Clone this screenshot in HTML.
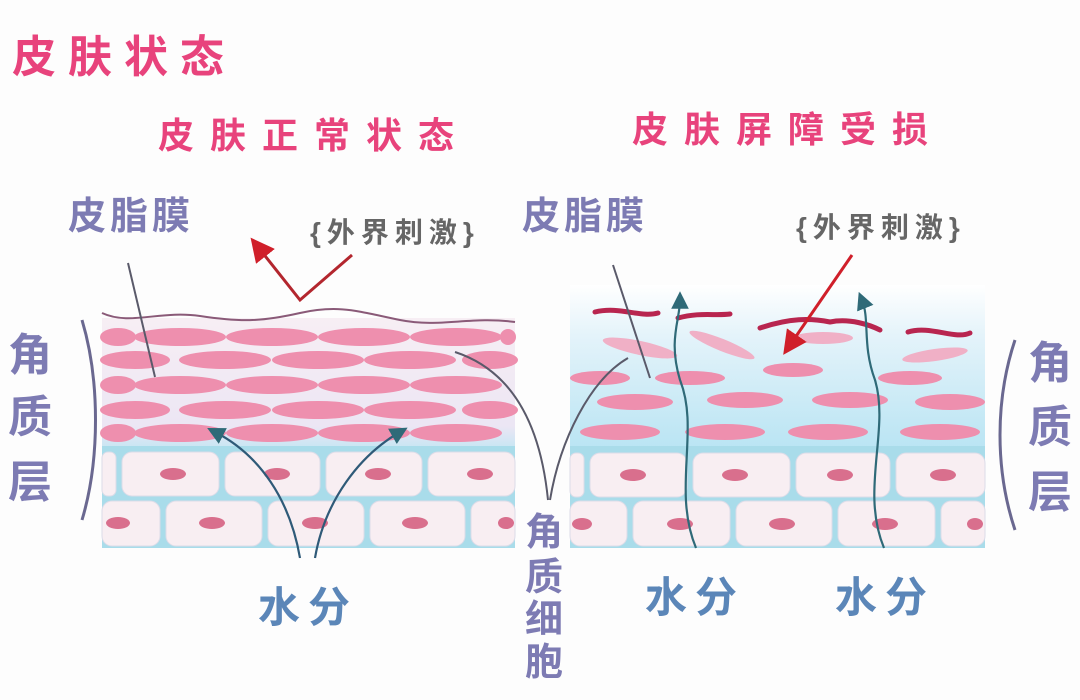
<!DOCTYPE html>
<html><head><meta charset="utf-8"><style>
html,body{margin:0;padding:0;background:#fff;width:1080px;height:700px;overflow:hidden}
svg{display:block}
text{font-family:"Liberation Sans","Noto Sans CJK SC","WenQuanYi Zen Hei",sans-serif;font-weight:bold}
</style></head><body>
<svg width="1080" height="700" viewBox="0 0 1080 700" xmlns="http://www.w3.org/2000/svg">
<defs>
<linearGradient id="rb" x1="0" y1="0" x2="0" y2="1">
<stop offset="0" stop-color="#ffffff"/><stop offset="0.3" stop-color="#e4f3fa"/><stop offset="1" stop-color="#b8e4f3"/></linearGradient>
<linearGradient id="lb" x1="0" y1="0" x2="0" y2="1">
<stop offset="0" stop-color="#f7eef4"/><stop offset="0.8" stop-color="#ece6f4"/><stop offset="1" stop-color="#bfe6f3"/></linearGradient>
<marker id="ah" markerWidth="8" markerHeight="8" refX="4" refY="4" orient="auto"><path d="M0,0 L8,4 L0,8 Z" fill="#2f6a78"/></marker>
<marker id="ar" markerWidth="8" markerHeight="8" refX="4" refY="4" orient="auto"><path d="M0,0 L8,4 L0,8 Z" fill="#d01f2a"/></marker>
</defs>
<rect width="1080" height="700" fill="#fdfdfd"/>
<text x="12" y="72" font-size="44" fill="#e8437c" letter-spacing="12">皮肤状态</text>
<text x="158" y="148" font-size="36" fill="#e8437c" letter-spacing="16">皮肤正常状态</text>
<text x="632" y="142" font-size="36" fill="#e8437c" letter-spacing="16">皮肤屏障受损</text>
<text x="68" y="229" font-size="38" fill="#7d7bb3" letter-spacing="4">皮脂膜</text>
<text x="522" y="229" font-size="38" fill="#7d7bb3" letter-spacing="4">皮脂膜</text>
<text x="310" y="242" font-size="28" fill="#666" letter-spacing="6">{外界刺激}</text>
<text x="796" y="237" font-size="28" fill="#666" letter-spacing="6">{外界刺激}</text>
<!-- left panel -->
<rect x="102" y="318" width="413" height="135" fill="url(#lb)"/>
<g fill="#ee8fae">
<ellipse cx="118" cy="337" rx="18" ry="9"/><ellipse cx="180" cy="337" rx="46" ry="9"/><ellipse cx="272" cy="337" rx="46" ry="9"/><ellipse cx="364" cy="337" rx="46" ry="9"/><ellipse cx="456" cy="337" rx="46" ry="9"/><ellipse cx="508" cy="337" rx="8" ry="8"/>
<ellipse cx="135" cy="360" rx="35" ry="9"/><ellipse cx="225" cy="360" rx="46" ry="9"/><ellipse cx="318" cy="360" rx="46" ry="9"/><ellipse cx="410" cy="360" rx="46" ry="9"/><ellipse cx="490" cy="360" rx="28" ry="9"/>
<ellipse cx="118" cy="385" rx="18" ry="9"/><ellipse cx="180" cy="385" rx="46" ry="9"/><ellipse cx="272" cy="385" rx="46" ry="9"/><ellipse cx="364" cy="385" rx="46" ry="9"/><ellipse cx="456" cy="385" rx="46" ry="9"/>
<ellipse cx="135" cy="410" rx="35" ry="9"/><ellipse cx="225" cy="410" rx="46" ry="9"/><ellipse cx="318" cy="410" rx="46" ry="9"/><ellipse cx="410" cy="410" rx="46" ry="9"/><ellipse cx="490" cy="410" rx="28" ry="9"/>
<ellipse cx="118" cy="433" rx="18" ry="9"/><ellipse cx="180" cy="433" rx="46" ry="9"/><ellipse cx="272" cy="433" rx="46" ry="9"/><ellipse cx="364" cy="433" rx="46" ry="9"/><ellipse cx="456" cy="433" rx="46" ry="9"/>
</g>
<path d="M102,313 C130,326 160,310 200,316 S260,322 300,313 S360,312 400,320 S470,316 515,322" fill="none" stroke="#8a5a78" stroke-width="2"/>
<!-- left cells -->
<rect x="102" y="446" width="413" height="102" fill="#a9dcea"/>
<g fill="#f8eef2" stroke="#dcdce8">
<rect x="102" y="452" width="14" height="44" rx="6"/><rect x="122" y="452" width="97" height="44" rx="10"/><rect x="225" y="452" width="95" height="44" rx="10"/><rect x="326" y="452" width="96" height="44" rx="10"/><rect x="428" y="452" width="87" height="44" rx="10"/>
<rect x="102" y="501" width="58" height="45" rx="10"/><rect x="166" y="501" width="96" height="45" rx="10"/><rect x="268" y="501" width="96" height="45" rx="10"/><rect x="370" y="501" width="95" height="45" rx="10"/><rect x="471" y="501" width="44" height="45" rx="10"/>
</g>
<g fill="#d96f8d">
<ellipse cx="173" cy="474" rx="13" ry="6"/><ellipse cx="277" cy="474" rx="13" ry="6"/><ellipse cx="378" cy="474" rx="13" ry="6"/><ellipse cx="480" cy="474" rx="13" ry="6"/>
<ellipse cx="118" cy="523" rx="12" ry="6"/><ellipse cx="212" cy="523" rx="13" ry="6"/><ellipse cx="315" cy="523" rx="13" ry="6"/><ellipse cx="415" cy="523" rx="13" ry="6"/><ellipse cx="506" cy="523" rx="8" ry="6"/>
</g>
<!-- right panel -->
<rect x="570" y="285" width="415" height="168" fill="url(#rb)"/>
<rect x="570" y="446" width="415" height="102" fill="#a9dcea"/>
<g fill="#f8eef2" stroke="#dcdce8">
<rect x="570" y="453" width="14" height="44" rx="6"/><rect x="590" y="453" width="97" height="44" rx="10"/><rect x="693" y="453" width="97" height="44" rx="10"/><rect x="796" y="453" width="94" height="44" rx="10"/><rect x="896" y="453" width="89" height="44" rx="10"/>
<rect x="570" y="501" width="57" height="45" rx="10"/><rect x="633" y="501" width="97" height="45" rx="10"/><rect x="736" y="501" width="96" height="45" rx="10"/><rect x="838" y="501" width="97" height="45" rx="10"/><rect x="941" y="501" width="44" height="45" rx="10"/>
</g>
<g fill="#d96f8d">
<ellipse cx="633" cy="475" rx="13" ry="6"/><ellipse cx="735" cy="475" rx="13" ry="6"/><ellipse cx="840" cy="475" rx="13" ry="6"/><ellipse cx="943" cy="475" rx="13" ry="6"/>
<ellipse cx="582" cy="524" rx="10" ry="6"/><ellipse cx="680" cy="524" rx="13" ry="6"/><ellipse cx="782" cy="524" rx="13" ry="6"/><ellipse cx="885" cy="524" rx="13" ry="6"/><ellipse cx="975" cy="524" rx="8" ry="6"/>
</g>
<g fill="#ee8fae">
<ellipse cx="620" cy="432" rx="40" ry="8"/><ellipse cx="725" cy="432" rx="40" ry="8"/><ellipse cx="828" cy="432" rx="40" ry="8"/><ellipse cx="940" cy="432" rx="40" ry="8"/>
<ellipse cx="635" cy="402" rx="38" ry="8"/><ellipse cx="745" cy="400" rx="38" ry="8"/><ellipse cx="850" cy="400" rx="38" ry="8"/><ellipse cx="950" cy="402" rx="35" ry="8"/>
<ellipse cx="600" cy="378" rx="30" ry="7"/><ellipse cx="690" cy="378" rx="35" ry="7"/><ellipse cx="793" cy="370" rx="30" ry="7"/><ellipse cx="910" cy="378" rx="32" ry="7"/>
</g>
<g fill="#f0b0c6">
<ellipse cx="640" cy="348" rx="38" ry="7" transform="rotate(12 640 348)"/><ellipse cx="722" cy="345" rx="35" ry="6" transform="rotate(22 722 345)"/><ellipse cx="823" cy="338" rx="30" ry="6"/><ellipse cx="935" cy="355" rx="33" ry="6" transform="rotate(-8 935 355)"/>
</g>
<g fill="none" stroke="#b8254f" stroke-width="5" stroke-linecap="round">
<path d="M595,312 C620,306 640,318 658,313"/><path d="M678,318 C700,312 715,316 730,314"/><path d="M760,328 C790,318 810,318 830,322 C850,318 870,325 880,330"/><path d="M908,332 C930,325 955,340 970,333"/>
</g>
<path d="M696,548 C672,490 700,430 680,380 C668,340 680,320 680,300" fill="none" stroke="#2f6a78" stroke-width="2.2" marker-end="url(#ah)"/>
<path d="M884,548 C860,490 890,430 875,380 C862,345 870,320 862,300" fill="none" stroke="#2f6a78" stroke-width="2.2" marker-end="url(#ah)"/>
<path d="M300,558 C290,500 260,455 215,432" fill="none" stroke="#2f5a78" stroke-width="2.2" marker-end="url(#ah)"/>
<path d="M315,558 C325,500 360,455 400,432" fill="none" stroke="#2f5a78" stroke-width="2.2" marker-end="url(#ah)"/>
<path d="M352,255 L300,300 L258,247" fill="none" stroke="#b3262e" stroke-width="3" marker-end="url(#ar)"/>
<path d="M852,255 L790,345" fill="none" stroke="#d01f2a" stroke-width="3" marker-end="url(#ar)"/>
<g fill="none" stroke="#5a5a6a" stroke-width="2">
<path d="M128,263 L155,377"/><path d="M613,265 L650,378"/>
<path d="M455,352 C510,370 540,420 548,500"/><path d="M628,358 C590,380 560,440 550,500"/>
<path d="M82,320 C100,380 100,460 82,520" stroke="#6a6890" stroke-width="3"/>
<path d="M1015,340 C995,400 995,470 1015,530" stroke="#6a6890" stroke-width="3"/>
</g>
<g font-size="44" fill="#7d7bb3">
<text x="8" y="370">角</text><text x="8" y="432">质</text><text x="8" y="497">层</text>
<text x="1028" y="378">角</text><text x="1028" y="442">质</text><text x="1028" y="507">层</text>
</g>
<g font-size="38" fill="#7d7bb3">
<text x="525" y="545">角</text><text x="525" y="590">质</text><text x="525" y="632">细</text><text x="525" y="675">胞</text>
</g>
<g font-size="42" fill="#5b86b8" letter-spacing="8">
<text x="258" y="622">水分</text><text x="645" y="612">水分</text><text x="835" y="612">水分</text>
</g>
</svg>
</body></html>
